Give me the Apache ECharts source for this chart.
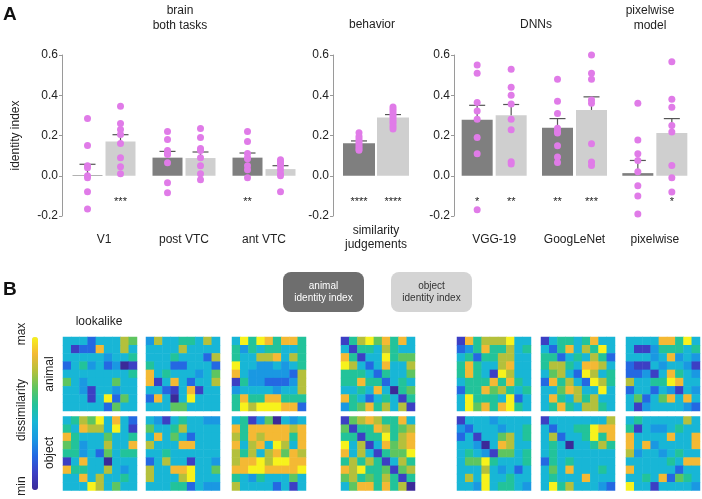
<!DOCTYPE html>
<html><head><meta charset="utf-8">
<script src="https://cdn.jsdelivr.net/npm/echarts@6/dist/echarts.min.js"></script>
<style>html,body{margin:0;padding:0;background:#fff}#c{width:702px;height:499px}</style>
</head><body><div id="c"></div>
<script>
// ---------- Panel A data ----------
const yTicks = [-0.2, 0.0, 0.2, 0.4, 0.6];

const brainCats = ['V1', 'post VTC', 'ant VTC'];
const brainAnimalMean = [0.003, 0.09, 0.09];
const brainAnimalTop = [0.057, 0.121, 0.113];
const brainObjectMean = [0.17, 0.088, 0.033];
const brainObjectTop = [0.204, 0.118, 0.05];
const brainAnimalDots = [
  [0.285, 0.15, 0.05, 0.04, 0.0, -0.01, -0.08, -0.165],
  [0.22, 0.18, 0.125, 0.11, 0.105, 0.065, -0.035, -0.085],
  [0.22, 0.17, 0.11, 0.09, 0.085, 0.05, 0.03, -0.01]
];
const brainObjectDots = [
  [0.345, 0.26, 0.23, 0.205, 0.16, 0.09, 0.045, 0.01],
  [0.235, 0.19, 0.135, 0.125, 0.09, 0.05, 0.01, -0.02],
  [0.08, 0.07, 0.06, 0.05, 0.03, 0.01, 0.0, -0.08]
];
const brainAnimalStars = ['', '', '**'];
const brainObjectStars = ['***', '', ''];

const behaviorCats = ['similarity\njudgements'];
const behaviorAnimalMean = [0.161];
const behaviorAnimalTop = [0.173];
const behaviorObjectMean = [0.289];
const behaviorObjectTop = [0.304];
const behaviorAnimalDots = [[0.214, 0.195, 0.182, 0.17, 0.158, 0.146, 0.135, 0.127]];
const behaviorObjectDots = [[0.342, 0.33, 0.318, 0.306, 0.294, 0.282, 0.27, 0.258, 0.245, 0.232]];
const behaviorAnimalStars = ['****'];
const behaviorObjectStars = ['****'];

const modelCats = ['VGG-19', 'GoogLeNet', 'pixelwise'];
const modelAnimalMean = [0.278, 0.238, 0.013];
const modelAnimalTop = [0.35, 0.284, 0.076];
const modelObjectMean = [0.301, 0.327, 0.212];
const modelObjectTop = [0.354, 0.392, 0.284];
const modelAnimalDots = [
  [0.55, 0.509, 0.364, 0.322, 0.281, 0.19, 0.109, -0.169],
  [0.479, 0.37, 0.309, 0.236, 0.22, 0.212, 0.149, 0.093, 0.066],
  [0.36, 0.178, 0.109, 0.076, 0.02, -0.05, -0.10, -0.19]
];
const modelObjectDots = [
  [0.529, 0.44, 0.40, 0.357, 0.281, 0.228, 0.069, 0.058],
  [0.60, 0.509, 0.479, 0.377, 0.36, 0.159, 0.068, 0.051],
  [0.567, 0.38, 0.34, 0.25, 0.218, 0.051, -0.01, -0.081]
];
const modelAnimalStars = ['*', '**', ''];
const modelObjectStars = ['**', '***', '*'];

// ---------- Panel B data (dissimilarity, 0=min .. 9=max) ----------
const v1Animal = [
[4,4,4,2,4,4,4,7,6],[4,1,2,2,8,4,4,7,4],[4,4,4,4,4,3,4,4,5],[2,4,5,3,4,2,3,0,1],[4,4,4,4,4,4,4,4,5],
[6,4,3,4,4,4,6,4,4],[4,4,3,1,4,4,3,4,4],[4,4,4,1,4,9,2,6,4],[4,4,4,4,4,2,6,4,4]];
const v1Object = [
[4,5,7,6,9,4,8,4,2],[5,4,8,7,7,4,9,4,1],[8,5,4,4,4,6,4,4,5],[6,5,3,4,4,7,4,4,8],[5,5,3,4,2,6,4,5,5],
[1,4,8,4,4,0,4,4,4],[8,5,5,4,4,7,4,3,4],[4,4,8,4,7,4,4,5,4],[4,4,4,9,7,4,6,4,4]];
const postAnimal = [
[3,7,4,4,5,5,4,7,4],[4,4,4,4,7,4,4,4,4],[4,4,4,5,4,4,4,2,7],[5,4,4,2,2,4,4,4,2],[8,4,5,4,4,4,3,4,6],
[8,1,4,8,4,2,4,4,7],[4,4,2,1,4,8,1,4,4],[2,8,4,0,4,9,4,4,4],[4,4,4,6,6,4,4,4,4]];
const postObject = [
[4,3,1,4,5,4,4,3,3],[6,4,4,5,7,4,4,4,4],[4,8,4,6,4,2,4,4,4],[7,4,4,4,8,8,4,4,4],[4,4,5,4,4,4,4,4,4],
[2,4,7,4,4,1,4,4,3],[7,4,4,8,8,9,4,4,6],[7,4,4,4,7,9,4,4,4],[4,4,4,5,5,2,4,3,3]];
const antAnimal = [
[4,9,5,9,8,5,8,8,5],[5,3,5,4,5,5,4,4,5],[5,4,4,7,7,8,4,7,5],[9,4,4,3,3,4,3,4,5],[8,4,3,3,3,3,3,2,7],
[1,5,3,3,2,2,2,3,7],[3,4,4,4,4,3,4,4,7],[5,8,5,5,8,8,5,5,5],[5,9,7,9,9,9,8,8,2]];
const antObject = [
[4,5,1,3,6,0,4,3,4],[8,5,8,8,8,8,8,7,8],[7,5,8,7,8,8,8,5,8],[8,4,7,8,4,9,7,4,8],[7,5,7,4,7,8,6,8,7],
[7,8,8,9,7,9,9,8,8],[8,8,9,9,8,8,8,8,9],[5,4,3,5,4,4,4,6,4],[7,4,4,4,4,2,4,1,4]];
const behavAnimal = [
[1,5,7,9,6,8,5,8,4],[4,1,5,5,4,7,5,4,4],[8,5,1,4,4,9,5,6,6],[9,7,4,2,4,8,4,4,7],[5,5,5,4,2,5,4,4,6],
[5,5,8,5,5,2,4,5,4],[4,4,5,4,8,4,0,5,6],[8,5,4,2,4,5,4,1,5],[3,5,6,8,5,7,4,7,1]];
const behavObject = [
[1,6,7,8,7,5,5,8,4],[6,1,5,5,8,7,5,6,7],[5,5,1,5,5,9,5,7,8],[9,4,7,1,4,8,6,7,8],[8,4,7,4,1,5,6,6,9],
[5,7,5,7,5,1,4,7,5],[8,7,9,5,5,6,1,6,7],[6,7,5,6,5,7,5,1,5],[4,6,8,8,5,8,5,7,0]];
const vggAnimal = [
[1,8,5,7,7,7,9,4,4],[2,3,5,8,5,5,7,4,5],[4,5,2,5,5,7,7,4,4],[5,8,5,4,4,7,8,4,4],[5,8,5,4,1,9,7,4,4],
[4,5,5,5,8,5,8,5,4],[2,5,5,8,6,7,5,4,5],[4,9,5,5,5,4,9,2,4],[4,9,6,8,5,8,9,5,4]];
const vggObject = [
[1,4,4,4,3,4,4,4,4],[3,2,4,4,4,3,4,4,5],[2,4,1,4,4,6,7,4,5],[4,4,3,0,4,8,7,4,4],[4,5,4,3,1,6,6,4,5],
[4,6,6,9,5,4,4,4,5],[4,4,4,7,4,3,4,2,4],[4,7,4,9,4,4,5,4,4],[4,4,3,9,4,5,5,4,3]];
const googAnimal = [
[1,4,5,5,4,5,8,4,4],[4,2,5,8,4,7,5,9,4],[5,5,2,4,5,4,7,5,2],[5,7,7,5,4,8,8,7,4],[4,6,7,4,2,9,7,4,5],
[2,8,5,7,4,2,9,7,5],[4,4,6,8,7,4,4,9,4],[4,8,5,4,7,5,7,4,4],[4,5,8,5,4,7,7,5,4]];
const googObject = [
[1,4,4,4,4,4,4,4,7],[4,2,4,4,5,5,9,8,8],[4,7,2,4,4,5,9,5,8],[4,5,4,0,4,4,5,7,5],[4,5,4,4,4,4,4,4,4],
[2,5,4,5,4,4,4,4,4],[4,6,4,8,4,4,4,5,4],[4,5,4,4,4,8,4,4,4],[4,9,5,7,4,4,4,3,2]];
const pixAnimal = [
[4,4,4,4,8,8,5,9,4],[4,1,1,3,5,5,5,4,5],[4,4,4,3,4,8,3,4,3],[2,1,1,4,3,4,4,3,1],[2,2,3,1,4,8,5,4,3],
[7,4,4,5,5,9,8,4,4],[2,4,4,2,4,3,1,4,3],[4,6,2,4,6,8,4,8,4],[4,1,3,4,4,4,4,3,2]];
const pixObject = [
[4,5,4,4,4,4,4,7,4],[5,1,4,3,3,4,5,4,4],[8,4,4,4,4,8,4,4,8],[8,4,8,3,4,4,4,4,8],[7,3,4,4,3,4,5,4,4],
[4,4,4,4,4,5,4,8,8],[8,4,4,4,4,4,2,4,4],[4,4,5,4,8,2,6,5,4],[9,4,4,1,4,4,4,4,3]];

// ---------- build ----------
const FONT = '"Liberation Sans", Arial, Helvetica, sans-serif';
const TXT = '#222';
const DARK = '#7f7f7f', LIGHT = '#cfcfcf', DOT = '#e07be8', AXIS = '#9a9a9a';
const PARULA = ['#3b2a98','#3c3fc4','#2468e2','#1a98e2','#18b6d6','#22c39a','#5ec560','#b4c03c','#f4b934','#f7f21c'];

const panels = [
  {cats: brainCats, aM: brainAnimalMean, aT: brainAnimalTop, oM: brainObjectMean, oT: brainObjectTop,
   aD: brainAnimalDots, oD: brainObjectDots, aS: brainAnimalStars, oS: brainObjectStars,
   left: 64, width: 240, axisX: 62, barW: 30, gap: 3, name: 'identity index', lm: 17},
  {cats: behaviorCats, aM: behaviorAnimalMean, aT: behaviorAnimalTop, oM: behaviorObjectMean, oT: behaviorObjectTop,
   aD: behaviorAnimalDots, oD: behaviorObjectDots, aS: behaviorAnimalStars, oS: behaviorObjectStars,
   left: 333, width: 86, axisX: 333, barW: 32, gap: 2, name: '', lm: 8},
  {cats: modelCats, aM: modelAnimalMean, aT: modelAnimalTop, oM: modelObjectMean, oT: modelObjectTop,
   aD: modelAnimalDots, oD: modelObjectDots, aS: modelAnimalStars, oS: modelObjectStars,
   left: 454, width: 241, axisX: 454, barW: 31, gap: 3, name: '', lm: 17}
];

const grid = [], xAxis = [], yAxis = [], series = [];
panels.forEach((p, k) => {
  const n = p.cats.length;
  const off = (p.barW + p.gap) / 2 / (p.width / n);
  grid.push({left: p.left, top: 55, width: p.width, height: 161});
  xAxis.push({gridIndex: k, type: 'category', data: p.cats, axisLine: {show: false}, axisTick: {show: false},
    axisLabel: {margin: p.lm, fontSize: 12, color: TXT, fontFamily: FONT, lineHeight: 14, interval: 0}});
  xAxis.push({gridIndex: k, type: 'value', min: -0.5, max: n - 0.5, show: false});
  yAxis.push({gridIndex: k, type: 'value', min: yTicks[0], max: yTicks[yTicks.length - 1], interval: 0.2,
    offset: p.left - p.axisX,
    axisLine: {show: true, onZero: false, lineStyle: {color: AXIS, width: 1}},
    axisTick: {show: true, length: 3, lineStyle: {color: AXIS}},
    splitLine: {show: false},
    axisLabel: {formatter: v => v.toFixed(1), fontSize: 12, color: TXT, fontFamily: FONT, margin: 4},
    name: p.name, nameLocation: 'middle', nameGap: 40,
    nameTextStyle: {fontSize: 12, color: TXT, fontFamily: FONT}});
  const xi = 2 * k, vi = 2 * k + 1;
  const bg = (p.gap / p.barW * 100) + '%';
  series.push({type: 'bar', xAxisIndex: xi, yAxisIndex: k, data: p.aM, barWidth: p.barW, barGap: bg,
    itemStyle: {color: DARK}, z: 2, silent: true});
  series.push({type: 'bar', xAxisIndex: xi, yAxisIndex: k, data: p.oM, barWidth: p.barW, barGap: bg,
    itemStyle: {color: LIGHT}, z: 2, silent: true});
  const err = [];
  p.cats.forEach((c, i) => { err.push([i - off, p.aM[i], p.aT[i]]); err.push([i + off, p.oM[i], p.oT[i]]); });
  series.push({type: 'custom', xAxisIndex: vi, yAxisIndex: k, data: err, z: 3, silent: true,
    encode: {x: 0, y: [1, 2]},
    renderItem: (params, api) => {
      const x = api.value(0), m = api.value(1), t = api.value(2);
      const p0 = api.coord([x, m]), p1 = api.coord([x, t]);
      const st = {stroke: '#555', lineWidth: 1.2};
      return {type: 'group', children: [
        {type: 'line', shape: {x1: p0[0], y1: p0[1], x2: p1[0], y2: p1[1]}, style: st},
        {type: 'line', shape: {x1: p1[0] - 8, y1: p1[1], x2: p1[0] + 8, y2: p1[1]}, style: st}
      ]};
    }});
  const dots = [];
  p.aD.forEach((arr, i) => arr.forEach(v => dots.push([i - off, v])));
  p.oD.forEach((arr, i) => arr.forEach(v => dots.push([i + off, v])));
  series.push({type: 'scatter', xAxisIndex: vi, yAxisIndex: k, data: dots, symbolSize: 7,
    itemStyle: {color: DOT, opacity: 1}, z: 4, silent: true});
  const stars = [];
  p.aS.forEach((s, i) => { if (s) stars.push([i - off, -0.13, s]); });
  p.oS.forEach((s, i) => { if (s) stars.push([i + off, -0.13, s]); });
  series.push({type: 'scatter', xAxisIndex: vi, yAxisIndex: k, data: stars, symbolSize: 1,
    itemStyle: {color: 'rgba(0,0,0,0)'}, silent: true, z: 4,
    label: {show: true, position: 'inside', formatter: q => q.data[2], fontSize: 11, color: TXT, fontFamily: FONT, opacity: 1}});
});

// heatmaps
const heatCols = [[v1Animal, v1Object], [postAnimal, postObject], [antAnimal, antObject],
  [behavAnimal, behavObject], [vggAnimal, vggObject], [googAnimal, googObject], [pixAnimal, pixObject]];
const colX = [63, 146, 232, 341, 457, 541, 626];
const rowY = [337, 416.5];
const idx9 = [0,1,2,3,4,5,6,7,8];
const heatSeries = [];
heatCols.forEach((pair, c) => {
  pair.forEach((mat, r) => {
    const gi = grid.length;
    grid.push({left: colX[c], top: rowY[r], width: 74, height: 74});
    xAxis.push({gridIndex: gi, type: 'category', data: idx9, show: false});
    yAxis.push({gridIndex: gi, type: 'category', data: idx9, show: false, inverse: true});
    const data = [];
    mat.forEach((row, y) => row.forEach((v, x) => data.push([x, y, v])));
    heatSeries.push(series.length);
    series.push({type: 'heatmap', xAxisIndex: xAxis.length - 1, yAxisIndex: yAxis.length - 1, data: data,
      silent: true, progressive: 0, emphasis: {disabled: true}});
  });
});

function txt(x, y, s, o) {
  o = o || {};
  return {type: 'text', x: x, y: y, rotation: o.rot || 0, silent: true,
    style: {text: s, fill: o.fill || TXT, fontSize: o.size || 12, fontFamily: FONT, fontWeight: o.bold ? 'bold' : 'normal',
      textAlign: o.align || 'center', align: o.align || 'center', textVerticalAlign: o.va || 'middle', verticalAlign: o.va || 'middle',
      lineHeight: o.lh || 14}};
}

const graphic = [
  txt(3, 15, 'A', {size: 19, bold: true, align: 'left', fill: '#111'}),
  txt(3, 290, 'B', {size: 19, bold: true, align: 'left', fill: '#111'}),
  txt(180, 18.5, 'brain\nboth tasks', {lh: 15}),
  txt(372, 25, 'behavior'),
  txt(536, 25, 'DNNs'),
  txt(650, 18.5, 'pixelwise\nmodel', {lh: 15}),
  {type: 'rect', silent: true, shape: {x: 283, y: 272, width: 81, height: 40, r: 8}, style: {fill: '#6e6e6e'}},
  txt(323.5, 292, 'animal\nidentity index', {size: 10, fill: '#fff', lh: 12}),
  {type: 'rect', silent: true, shape: {x: 391, y: 272, width: 81, height: 40, r: 8}, style: {fill: '#d4d4d4'}},
  txt(431.5, 292, 'object\nidentity index', {size: 10, fill: '#333', lh: 12}),
  txt(99, 322, 'lookalike'),
  txt(22, 334, 'max', {rot: Math.PI / 2}),
  txt(22, 410, 'dissimilarity', {rot: Math.PI / 2}),
  txt(22, 486, 'min', {rot: Math.PI / 2}),
  txt(50, 374, 'animal', {rot: Math.PI / 2}),
  txt(50, 453, 'object', {rot: Math.PI / 2})
];

const chart = echarts.init(document.getElementById('c'));
chart.setOption({
  animation: false,
  backgroundColor: '#fff',
  textStyle: {fontFamily: FONT},
  grid: grid, xAxis: xAxis, yAxis: yAxis, series: series,
  visualMap: [{type: 'continuous', min: 0, max: 9, seriesIndex: heatSeries, left: 32, top: 337,
    itemWidth: 6, itemHeight: 153, padding: 0, calculable: false, hoverLink: false, realtime: false,
    text: null, inRange: {color: PARULA}}],
  graphic: graphic
});
</script>
</body></html>
